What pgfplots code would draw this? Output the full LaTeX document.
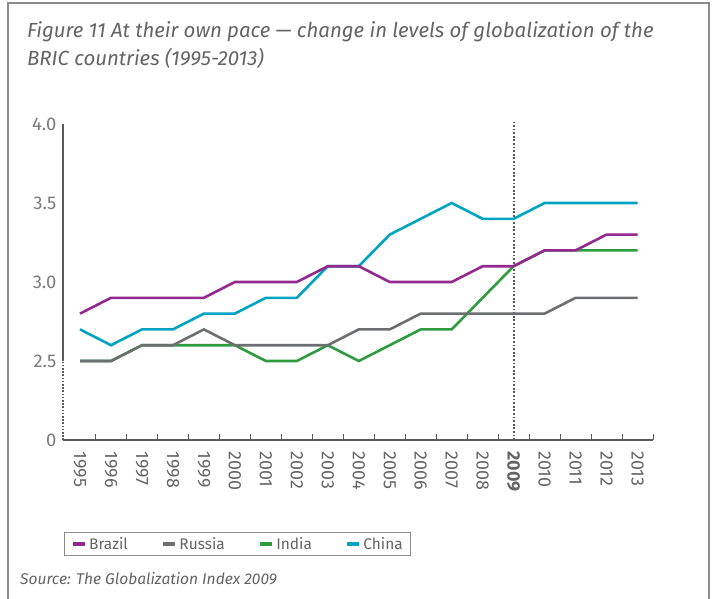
\documentclass[border=0pt]{standalone}
\usepackage{pgfplots}
\pgfplotsset{compat=1.18}
\usepackage{fontspec}
\setmainfont{Fira Sans}
\definecolor{brazil}{HTML}{93288E}
\definecolor{russia}{HTML}{6D6E70}
\definecolor{india}{HTML}{2E9B3E}
\definecolor{china}{HTML}{00A3C2}
\definecolor{txt}{HTML}{646464}
\definecolor{framec}{HTML}{8C8C8C}
\definecolor{axisgray}{HTML}{5A5A5A}

\pgfplotstableread{
x Brazil Russia India China
0  2.8 2.5 2.5 2.7
1  2.9 2.5 2.5 2.6
2  2.9 2.6 2.6 2.7
3  2.9 2.6 2.6 2.7
4  2.9 2.7 2.6 2.8
5  3.0 2.6 2.6 2.8
6  3.0 2.6 2.5 2.9
7  3.0 2.6 2.5 2.9
8  3.1 2.6 2.6 3.1
9  3.1 2.7 2.5 3.1
10 3.0 2.7 2.6 3.3
11 3.0 2.8 2.7 3.4
12 3.0 2.8 2.7 3.5
13 3.1 2.8 2.9 3.4
14 3.1 2.8 3.1 3.4
15 3.2 2.8 3.2 3.5
16 3.2 2.9 3.2 3.5
17 3.3 2.9 3.2 3.5
18 3.3 2.9 3.2 3.5
}\datatable

\begin{document}
\begin{tikzpicture}[x=1bp,y=1bp]
\useasboundingbox (0bp,0bp) rectangle (713bp,-599bp);
\draw[framec, line width=2bp] (8bp,-600bp) -- (8bp,-3bp) -- (709bp,-3bp) -- (709bp,-600bp);
\node[anchor=north west, align=left, font=\fontsize{20.5}{28}\selectfont\itshape, text=txt, inner sep=0pt] at (27bp,-21bp)
 {Figure 11 At their own pace — change in levels of globalization of the\\BRIC countries (1995-2013)};
\node[anchor=west, font=\fontsize{15.6}{16}\selectfont\itshape, text=txt, inner sep=0pt] at (20bp,-579bp)
 {Source: The Globalization Index 2009};
\begin{axis}[
  at={(63bp,-440bp)}, anchor=south west,
  scale only axis, width=590bp, height=316bp,
  xmin=-0.55, xmax=18.5, ymin=2, ymax=4,
  axis x line*=bottom, axis y line*=left,
  y axis line style={draw=none},
  x axis line style={line width=1.2bp, color=axisgray},
  xtick={0,...,18},
  xticklabels={1995,1996,1997,1998,1999,2000,2001,2002,2003,2004,2005,2006,2007,2008,\textbf{2009},2010,2011,2012,2013},
  major x tick style={draw=none},
  minor xtick={0.5,1.5,...,18.5},
  minor tick length=6bp,
  tick align=inside,
  minor x tick style={line width=1bp, color=axisgray},
  ytick={2,2.5,3,3.5,4}, yticklabels={0,2.5,3.0,3.5,4.0},
  major y tick style={draw=none},
  xticklabel style={rotate=-90, anchor=west, font=\fontsize{18}{18}\selectfont, text=txt},
  xticklabel shift=8bp,
  yticklabel style={font=\fontsize{18.5}{18}\selectfont, text=txt!85, xshift=-3bp},
  clip=false,
  reverse legend,
  legend columns=4,
  legend style={at={(0.002,-0.291)}, anchor=north west, draw=framec, line width=1bp,
    font=\fontsize{15.5}{16}\selectfont, text=txt, inner ysep=3bp, inner xsep=6bp,
    /tikz/every even column/.append style={column sep=31bp}},
  legend image code/.code={\draw[line width=4.5bp] (0bp,0bp) -- (12bp,0bp);},
  every axis plot/.append style={line width=2.6bp},
]
\draw[axisgray, line width=1.2bp] (axis cs:-0.55,2.5) -- (axis cs:-0.55,4);
\draw[axisgray, line width=1.6bp, dash pattern=on 1.6bp off 1.6bp] (axis cs:-0.55,2) -- (axis cs:-0.55,2.5);
\draw[axisgray, line width=1.8bp, dash pattern=on 1.8bp off 1.8bp] (axis cs:14,2) -- (axis cs:14,4.01);
\addplot[china] table[x=x, y=China] {\datatable};
\addlegendentry{China}
\addplot[india] table[x=x, y=India] {\datatable};
\addlegendentry{India}
\addplot[russia] table[x=x, y=Russia] {\datatable};
\addlegendentry{Russia}
\addplot[brazil] table[x=x, y=Brazil] {\datatable};
\addlegendentry{Brazil}
\end{axis}
\end{tikzpicture}
\end{document}
